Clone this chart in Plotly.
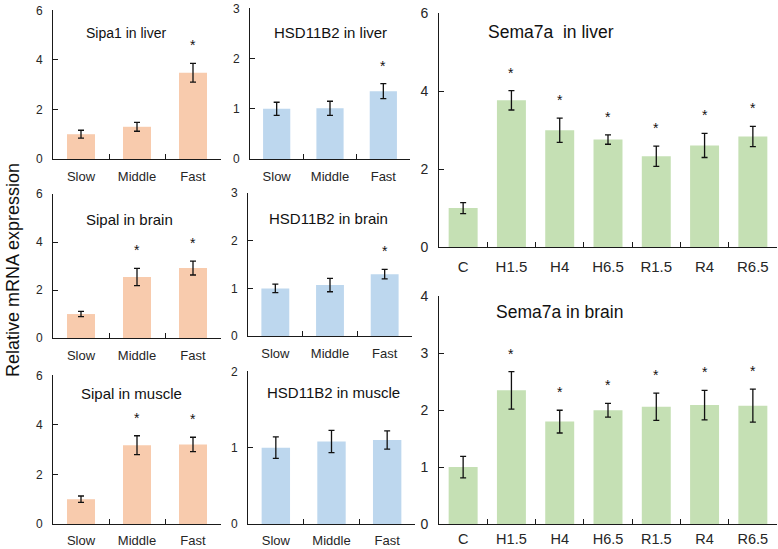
import plotly.graph_objects as go

W, H = 778, 549

# ---------------- data ----------------
speed_groups = ["Slow", "Middle", "Fast"]
sema_groups = ["C", "H1.5", "H4", "H6.5", "R1.5", "R4", "R6.5"]

sipa1_liver = [1.0, 1.30, 3.48]
sipa1_liver_err = [0.16, 0.18, 0.38]
sipa1_liver_sig = [False, False, True]

hsd_liver = [1.0, 1.01, 1.35]
hsd_liver_err = [0.13, 0.14, 0.15]
hsd_liver_sig = [False, False, True]

sipa1_brain = [1.0, 2.55, 2.92]
sipa1_brain_err = [0.11, 0.36, 0.29]
sipa1_brain_sig = [False, True, True]

hsd_brain = [1.0, 1.07, 1.30]
hsd_brain_err = [0.09, 0.14, 0.10]
hsd_brain_sig = [False, False, True]

sipa1_muscle = [1.0, 3.18, 3.21]
sipa1_muscle_err = [0.13, 0.38, 0.29]
sipa1_muscle_sig = [False, True, True]

hsd_muscle = [1.0, 1.08, 1.10]
hsd_muscle_err = [0.14, 0.145, 0.12]
hsd_muscle_sig = [False, False, False]

sema_liver = [1.0, 3.77, 3.0, 2.76, 2.33, 2.61, 2.84]
sema_liver_err = [0.14, 0.25, 0.31, 0.12, 0.26, 0.31, 0.26]
sema_liver_sig = [False, True, True, True, True, True, True]

sema_brain = [1.0, 2.35, 1.80, 2.0, 2.06, 2.09, 2.08]
sema_brain_err = [0.19, 0.33, 0.20, 0.12, 0.24, 0.26, 0.29]
sema_brain_sig = [False, True, True, True, True, True, True]

# ---------------- styles ----------------
ORANGE = "#F8CBAD"
BLUE = "#BDD7EE"
GREEN = "#C5E0B4"
FONT = "Arial, Liberation Sans, sans-serif"
TICKCOL = "#262626"
LINECOL = "#1a1a1a"

# panel: (title, cats, vals, errs, sig, color, ymax, dtick, px box x0,x1,ytop,ybot,
#         bargap, title center px, title font, y tick font, x tick font, x standoff)
panels = [
    ("Sipa1 in liver", speed_groups, sipa1_liver, sipa1_liver_err, sipa1_liver_sig, ORANGE, 6, 2,
     (53, 221, 10, 159), 0.5, (126, 33), 14, 12, 13, 5),
    ("HSD11B2 in liver", speed_groups, hsd_liver, hsd_liver_err, hsd_liver_sig, BLUE, 3, 1,
     (250, 410, 8, 159), 0.49, (330, 33), 15, 12, 13, 5),
    ("Sipal in brain", speed_groups, sipa1_brain, sipa1_brain_err, sipa1_brain_sig, ORANGE, 6, 2,
     (53, 221, 194, 338), 0.5, (129, 219), 15, 12, 13, 5),
    ("HSD11B2 in brain", speed_groups, hsd_brain, hsd_brain_err, hsd_brain_sig, BLUE, 3, 1,
     (248, 412, 193, 336), 0.49, (328, 218), 15, 12, 13, 5),
    ("Sipal in muscle", speed_groups, sipa1_muscle, sipa1_muscle_err, sipa1_muscle_sig, ORANGE, 6, 2,
     (53, 221, 375, 524), 0.5, (131, 393), 15, 12, 13, 4),
    ("HSD11B2 in muscle", speed_groups, hsd_muscle, hsd_muscle_err, hsd_muscle_sig, BLUE, 2, 1,
     (248, 415, 371, 524), 0.49, (333, 392), 15, 12, 13, 4),
    ("Sema7a\u00a0 in liver", sema_groups, sema_liver, sema_liver_err, sema_liver_sig, GREEN, 6, 2,
     (439, 777, 13, 247), 0.4, (551, 32), 17.5, 14, 15, 6),
    ("Sema7a in brain", sema_groups, sema_brain, sema_brain_err, sema_brain_sig, GREEN, 4, 1,
     (439, 777, 296, 524), 0.4, (559, 312), 17.5, 14, 14.5, 2),
]

fig = go.Figure()
annotations = []
layout = dict(
    template="none",
    width=W, height=H,
    margin=dict(l=0, r=0, t=0, b=0, autoexpand=False),
    paper_bgcolor="white", plot_bgcolor="rgba(0,0,0,0)",
    showlegend=False,
    font=dict(family=FONT, color=TICKCOL),
)

for i, p in enumerate(panels):
    (title, cats, vals, errs, sig, color, ymax, dtick, box, gap, tpos, tsize,
     yfs, xfs, xstand) = p
    n = i + 1
    xa = "x" if n == 1 else f"x{n}"
    ya = "y" if n == 1 else f"y{n}"
    x0, x1, yt, yb = box
    fig.add_trace(go.Bar(
        x=cats, y=vals, xaxis=xa, yaxis=ya,
        width=1 - gap,
        marker=dict(color=color, line=dict(width=0)),
        error_y=dict(type="data", array=errs, visible=True, color="#111111",
                     thickness=1.3, width=3),
        hoverinfo="skip",
    ))
    layout[f"xaxis{'' if n == 1 else n}"] = dict(
        domain=[x0 / W, x1 / W], anchor=ya, automargin=False,
        type="category", categoryorder="array", categoryarray=cats,
        range=[-0.5, len(cats) - 0.5],
        showline=True, linecolor=LINECOL, linewidth=1,
        ticks="inside", ticklen=5, tickcolor=LINECOL, tickwidth=1,
        tickson="boundaries", showgrid=False, zeroline=False,
        layer="above traces", ticklabelstandoff=xstand,
        tickfont=dict(family=FONT, size=xfs, color=TICKCOL),
    )
    layout[f"yaxis{'' if n == 1 else n}"] = dict(
        domain=[1 - yb / H, 1 - yt / H], anchor=xa, automargin=False,
        range=[0, ymax * 1.002], dtick=dtick, tick0=0,
        showline=True, linecolor=LINECOL, linewidth=1,
        ticks="inside", ticklen=5, tickcolor=LINECOL, tickwidth=1,
        showgrid=False, zeroline=False,
        layer="above traces", ticklabelstandoff=7,
        tickfont=dict(family=FONT, size=yfs, color=TICKCOL),
    )
    # panel title
    annotations.append(dict(
        text=title, x=tpos[0] / W, y=1 - tpos[1] / H, xref="paper", yref="paper",
        xanchor="center", yanchor="middle", showarrow=False,
        font=dict(family=FONT, size=tsize, color="#111111"),
    ))
    # significance stars
    for c, v, e, s in zip(cats, vals, errs, sig):
        if s:
            annotations.append(dict(
                text="*", x=c, y=v + e, xref=xa, yref=ya,
                xanchor="center", yanchor="bottom", yshift=8, showarrow=False,
                font=dict(family=FONT, size=14, color="#111111"),
            ))

annotations.append(dict(
    text="Relative mRNA expression", x=13 / W, y=1 - 270 / H, xref="paper", yref="paper",
    xanchor="center", yanchor="middle", showarrow=False, textangle=-90,
    font=dict(family=FONT, size=18, color="#111111"),
))
layout["annotations"] = annotations
fig.update_layout(**layout)

fig.write_html(
    "out.html",
    config={"displayModeBar": False},
    post_script="document.body.style.margin='0';document.body.style.overflow='hidden';",
)
